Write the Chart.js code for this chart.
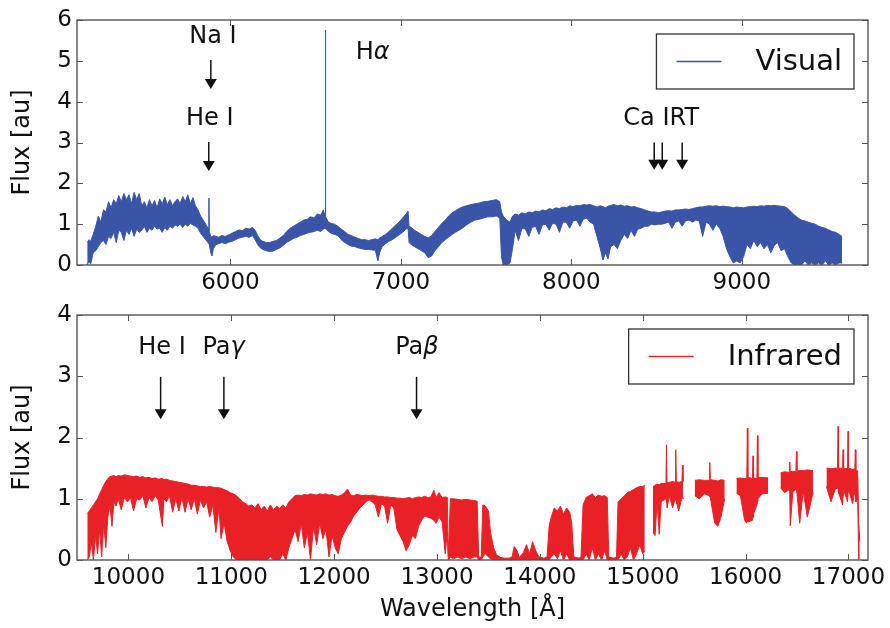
<!DOCTYPE html>
<html lang="en">
<head>
<meta charset="UTF-8">
<title>Visual and infrared spectra</title>
<script src="https://cdn.jsdelivr.net/npm/chart.js"></script>
<style>
  body { margin: 0; background: #fff; }
  .panel { position: absolute; left: 0; width: 890px; }
  #visPanel { top: 0; height: 290px; }
  #irPanel { top: 290px; height: 338px; }
</style>
</head>
<body>
<div class="panel" id="visPanel"><canvas id="visChart" width="890" height="290"></canvas></div>
<div class="panel" id="irPanel"><canvas id="irChart" width="890" height="338"></canvas></div>
<script>
const FONT = "'DejaVu Sans', sans-serif";
const visColor = 'rgb(58, 84, 168)';
const irColor = 'rgb(233, 32, 38)';

// axis ticks
const visTicks = [6000, 7000, 8000, 9000];
const visFluxTicks = [0, 1, 2, 3, 4, 5, 6];
const irTicks = [10000, 11000, 12000, 13000, 14000, 15000, 16000, 17000];
const irFluxTicks = [0, 1, 2, 3, 4];

// visual spectrum: wavelength [A], upper and lower envelope of the flux
const visWave = [
  5160, 5170, 5180, 5195, 5210, 5225, 5240, 5255, 5270, 5285,
  5300, 5315, 5330, 5345, 5360, 5375, 5390, 5405, 5420, 5435,
  5450, 5465, 5480, 5495, 5510, 5525, 5540, 5555, 5570, 5585,
  5600, 5615, 5630, 5645, 5660, 5675, 5690, 5705, 5720, 5735,
  5750, 5765, 5780, 5795, 5810, 5825, 5840, 5855, 5868, 5872,
  5874, 5876, 5885, 5892, 5900, 5915, 5930, 5950, 5970, 5990,
  6010, 6030, 6050, 6070, 6090, 6110, 6130, 6145, 6160, 6175,
  6190, 6210, 6230, 6250, 6270, 6290, 6310, 6330, 6350, 6370,
  6390, 6410, 6430, 6450, 6470, 6490, 6510, 6530, 6545, 6555,
  6557, 6559, 6575, 6590, 6610, 6630, 6650, 6670, 6690, 6710,
  6730, 6750, 6770, 6790, 6810, 6830, 6850, 6865, 6875, 6890,
  6910, 6930, 6950, 6970, 6990, 7010, 7030, 7042, 7048, 7060,
  7080, 7100, 7120, 7140, 7160, 7180, 7200, 7220, 7240, 7260,
  7280, 7300, 7320, 7340, 7360, 7385, 7410, 7435, 7460, 7485,
  7510, 7535, 7560, 7580, 7590, 7600, 7620, 7640, 7655, 7670,
  7690, 7710, 7730, 7750, 7770, 7790, 7810, 7830, 7850, 7870,
  7890, 7910, 7930, 7950, 7970, 7990, 8010, 8030, 8050, 8070,
  8090, 8110, 8130, 8150, 8170, 8185, 8200, 8215, 8230, 8250,
  8270, 8290, 8310, 8330, 8350, 8370, 8390, 8410, 8430, 8450,
  8470, 8490, 8510, 8530, 8550, 8570, 8590, 8610, 8630, 8650,
  8670, 8690, 8710, 8730, 8750, 8770, 8790, 8810, 8830, 8850,
  8870, 8890, 8910, 8930, 8950, 8970, 8990, 9010, 9030, 9050,
  9070, 9090, 9110, 9130, 9150, 9170, 9190, 9210, 9230, 9250,
  9270, 9290, 9310, 9330, 9350, 9370, 9390, 9410, 9430, 9450,
  9470, 9490, 9510, 9530, 9550, 9570, 9588
];
const visHigh = [
  0.55, 0.62, 0.58, 0.75, 0.95, 1.20, 1.05, 1.35, 1.30, 1.55,
  1.40, 1.60, 1.50, 1.70, 1.55, 1.75, 1.60, 1.72, 1.50, 1.78,
  1.60, 1.75, 1.45, 1.55, 1.40, 1.60, 1.45, 1.58, 1.40, 1.62,
  1.50, 1.66, 1.48, 1.60, 1.45, 1.55, 1.62, 1.50, 1.68, 1.55,
  1.72, 1.50, 1.65, 1.45, 1.35, 1.20, 1.10, 1.00, 0.90, 0.86,
  1.64, 0.82, 0.70, 0.68, 0.72, 0.70, 0.68, 0.72, 0.70, 0.74,
  0.78, 0.82, 0.86, 0.84, 0.90, 0.88, 0.92, 0.85, 0.72, 0.62,
  0.58, 0.55, 0.55, 0.58, 0.60, 0.66, 0.72, 0.82, 0.90, 0.95,
  1.00, 1.05, 1.10, 1.12, 1.18, 1.15, 1.25, 1.22, 1.35, 1.20,
  5.75, 1.18, 1.05, 1.02, 1.00, 0.95, 0.88, 0.82, 0.75, 0.72,
  0.68, 0.65, 0.62, 0.62, 0.60, 0.62, 0.64, 0.62, 0.66, 0.70,
  0.75, 0.82, 0.90, 0.98, 1.05, 1.15, 1.25, 1.32, 0.95, 0.92,
  0.85, 0.80, 0.75, 0.70, 0.66, 0.72, 0.82, 0.92, 1.02, 1.10,
  1.20, 1.28, 1.33, 1.38, 1.42, 1.45, 1.48, 1.50, 1.52, 1.55,
  1.56, 1.58, 1.60, 1.55, 1.30, 1.20, 1.10, 1.05, 1.20, 1.25,
  1.22, 1.28, 1.25, 1.30, 1.28, 1.32, 1.30, 1.35, 1.33, 1.38,
  1.36, 1.40, 1.38, 1.42, 1.40, 1.45, 1.43, 1.46, 1.45, 1.48,
  1.47, 1.48, 1.45, 1.42, 1.45, 1.43, 1.40, 1.44, 1.46, 1.48,
  1.45, 1.47, 1.44, 1.45, 1.42, 1.43, 1.40, 1.38, 1.35, 1.32,
  1.30, 1.30, 1.28, 1.30, 1.32, 1.33, 1.32, 1.35, 1.35, 1.36,
  1.37, 1.36, 1.38, 1.40, 1.42, 1.42, 1.44, 1.45, 1.44, 1.45,
  1.43, 1.44, 1.43, 1.42, 1.40, 1.42, 1.41, 1.40, 1.42, 1.43,
  1.44, 1.43, 1.45, 1.44, 1.46, 1.45, 1.46, 1.45, 1.44, 1.43,
  1.38, 1.30, 1.22, 1.15, 1.10, 1.08, 1.05, 1.02, 1.00, 0.95,
  0.92, 0.90, 0.86, 0.82, 0.80, 0.75, 0.70
];
const visLow = [
  0.00, 0.10, 0.02, 0.30, 0.35, 0.45, 0.55, 0.60, 0.50, 0.70,
  0.65, 0.80, 0.55, 0.85, 0.80, 0.60, 0.85, 0.75, 0.90, 0.70,
  0.88, 0.80, 0.85, 0.95, 0.80, 0.90, 0.85, 0.95, 0.88, 0.90,
  0.80, 0.92, 0.85, 0.95, 0.90, 0.98, 0.95, 1.00, 0.92, 1.00,
  0.95, 1.02, 0.98, 0.95, 0.90, 0.78, 0.70, 0.62, 0.55, 0.52,
  0.52, 0.50, 0.30, 0.22, 0.40, 0.50, 0.52, 0.55, 0.52, 0.56,
  0.58, 0.62, 0.66, 0.68, 0.70, 0.68, 0.72, 0.62, 0.50, 0.42,
  0.38, 0.35, 0.33, 0.34, 0.38, 0.42, 0.48, 0.55, 0.60, 0.65,
  0.68, 0.72, 0.75, 0.78, 0.80, 0.82, 0.85, 0.82, 0.88, 0.90,
  0.90, 0.90, 0.82, 0.78, 0.75, 0.72, 0.62, 0.55, 0.50, 0.46,
  0.45, 0.42, 0.40, 0.38, 0.38, 0.37, 0.36, 0.10, 0.30, 0.45,
  0.52, 0.58, 0.62, 0.68, 0.74, 0.80, 0.88, 0.90, 0.55, 0.50,
  0.45, 0.40, 0.35, 0.30, 0.18, 0.22, 0.35, 0.45, 0.55, 0.62,
  0.68, 0.75, 0.80, 0.85, 0.90, 0.98, 1.05, 1.10, 1.12, 1.15,
  1.18, 1.18, 1.20, 1.15, 0.20, 0.00, 0.00, 0.05, 0.40, 0.85,
  0.60, 0.90, 0.88, 0.70, 0.92, 0.95, 0.75, 0.98, 1.00, 0.85,
  1.02, 1.00, 0.80, 1.05, 1.05, 0.90, 1.08, 1.10, 0.95, 1.12,
  1.15, 1.05, 1.00, 0.70, 0.40, 0.12, 0.30, 0.15, 0.45, 0.50,
  0.40, 0.60, 0.75, 0.65, 0.85, 0.70, 0.88, 0.90, 0.95, 0.95,
  1.00, 0.98, 1.00, 1.00, 1.02, 1.05, 0.90, 1.05, 1.08, 0.95,
  1.08, 1.10, 1.05, 1.10, 1.08, 0.70, 1.05, 1.00, 0.85, 1.00,
  0.90, 0.70, 0.40, 0.20, 0.05, 0.10, 0.05, 0.20, 0.50, 0.40,
  0.60, 0.45, 0.55, 0.40, 0.50, 0.30, 0.48, 0.55, 0.35, 0.40,
  0.20, 0.05, 0.00, 0.02, 0.00, 0.10, 0.00, 0.05, 0.00, 0.05,
  0.00, 0.10, 0.00, 0.05, 0.00, 0.05, 0.05
];

// infrared spectrum (null = masked telluric band)
const irWave = [
  9600, 9620, 9640, 9660, 9680, 9700, 9720, 9740, 9760, 9780,
  9800, 9820, 9840, 9860, 9880, 9900, 9930, 9960, 9990, 10020,
  10050, 10080, 10110, 10140, 10170, 10200, 10230, 10260, 10290, 10330,
  10345, 10370, 10400, 10430, 10460, 10490, 10520, 10550, 10580, 10610,
  10640, 10670, 10700, 10730, 10760, 10790, 10820, 10850, 10880, 10900,
  10930, 10960, 10990, 11020, 11050, 11080, 11110, 11140, 11170, 11200,
  11230, 11260, 11290, 11320, 11350, 11380, 11410, 11440, 11470, 11500,
  11530, 11560, 11590, 11620, 11650, 11680, 11710, 11740, 11770, 11800,
  11830, 11860, 11890, 11920, 11950, 11980, 12010, 12040, 12070, 12100,
  12130, 12160, 12190, 12220, 12250, 12280, 12310, 12340, 12370, 12400,
  12430, 12460, 12490, 12520, 12550, 12580, 12610, 12640, 12670, 12700,
  12730, 12760, 12790, 12820, 12850, 12880, 12910, 12940, 12970, 12990,
  13020, 13050, 13080, 13100, 13110, 13130, 13160, 13200, 13240, 13280,
  13320, 13360, 13390, 13405, 13430, 13445, 13470, 13500, 13520, 13550,
  13580, 13620, 13660, 13700, 13730, 13750, 13780, 13800, 13840, 13870,
  13900, 13930, 13960, 13990, 14040, 14070, 14090, 14110, 14140, 14170,
  14200, 14230, 14260, 14290, 14310, 14330, 14380, 14400, 14420, 14450,
  14480, 14510, 14540, 14570, 14600, 14630, 14655, 14670, 14720, 14745,
  14760, 14790, 14820, 14850, 14880, 14910, 14940, 14970, 15000, 15020,
  15060, 15100, 15120, 15140, 15160, 15180, 15226, 15231, 15236, 15260,
  15290, 15316, 15321, 15326, 15350, 15381, 15386, 15391, 15450, 15506,
  15550, 15600, 15647, 15652, 15657, 15700, 15730, 15760, 15797, 15850,
  15911, 15950, 15990, 16012, 16017, 16022, 16067, 16072, 16077, 16110,
  16115, 16120, 16160, 16218, 16280, 16339, 16380, 16424, 16429, 16434,
  16460, 16489, 16494, 16499, 16526, 16560, 16600, 16656, 16720, 16786,
  16830, 16870, 16894, 16899, 16904, 16943, 16948, 16953, 16991, 16996,
  17001, 17040, 17062, 17067, 17072, 17090, 17100, 17110
];
const irHigh = [
  0.76, 0.80, 0.85, 0.90, 0.95, 1.00, 1.08, 1.15, 1.22, 1.28,
  1.33, 1.36, 1.37, 1.38, 1.36, 1.38, 1.37, 1.39, 1.38, 1.37,
  1.36, 1.37, 1.35, 1.36, 1.34, 1.35, 1.33, 1.34, 1.32, 1.33,
  1.31, 1.32, 1.30, 1.29, 1.28, 1.27, 1.26, 1.25, 1.24, 1.22,
  1.22, 1.21, 1.20, 1.20, 1.19, 1.20, 1.19, 1.18, 1.18, 1.17,
  1.15, 1.13, 1.10, 1.08, 1.05, 1.00, 0.95, 0.92, 0.88, 0.90,
  0.85, 0.92, 0.82, 0.88, 0.80, 0.90, 0.82, 0.88, 0.84, 0.90,
  0.85, 0.95, 1.00, 1.05, 1.06, 1.05, 1.07, 1.06, 1.08, 1.07,
  1.06, 1.08, 1.07, 1.08, 1.06, 1.07, 1.05, 1.04, 1.06, 1.10,
  1.16, 1.06, 1.05, 1.07, 1.06, 1.05, 1.06, 1.05, 1.06, 1.05,
  1.04, 1.04, 1.03, 1.03, 1.02, 1.02, 1.01, 1.01, 1.00, 1.01,
  1.02, 1.00, 1.02, 1.03, 1.02, 1.04, 1.02, 1.03, 1.14, 1.02,
  1.10, 1.02, 1.03, 1.02, 0.05, 1.00, 1.00, 0.99, 0.98, 0.99,
  0.98, 0.97, 0.96, 0.05, 0.05, 0.90, 0.88, 0.80, 0.45, 0.20,
  0.08, 0.04, 0.03, 0.03, 0.05, 0.22, 0.15, 0.04, 0.12, 0.25,
  0.10, 0.30, 0.15, 0.05, 0.03, 0.05, 0.55, 0.70, 0.85, 0.80,
  0.88, 0.75, 0.85, 0.78, 0.60, 0.05, 0.03, 0.05, 0.90, 1.02,
  1.05, 1.08, 1.02, 1.06, 1.04, 1.05, 1.02, 0.05, 0.03, 0.05,
  0.95, 1.00, 1.05, 1.10, 1.12, 1.15, 1.18, 1.20, 1.20, 1.22,
  null, 1.20, 1.22, 1.24, 1.23, 1.25, 1.25, 1.88, 1.26, 1.27,
  1.28, 1.27, 1.80, 1.28, 1.27, 1.28, 1.55, 1.28, null, 1.30,
  1.31, 1.30, 1.30, 1.59, 1.31, 1.30, 1.29, 1.31, 1.30, null,
  1.33, 1.34, 1.33, 1.34, 2.15, 1.35, 1.33, 1.70, 1.34, 1.33,
  2.03, 1.34, 1.35, 1.34, null, 1.42, 1.44, 1.43, 1.60, 1.44,
  1.45, 1.44, 1.77, 1.45, 1.46, 1.46, 1.47, 1.46, null, 1.50,
  1.49, 1.50, 1.50, 2.18, 1.50, 1.50, 1.80, 1.50, 1.49, 2.10,
  1.50, 1.48, 1.49, 1.80, 1.48, 1.45, 0.60, 0.30
];
const irLow = [
  0.00, 0.05, 0.30, 0.00, 0.40, 0.10, 0.50, 0.05, 0.60, 0.20,
  0.70, 0.90, 0.55, 0.95, 0.88, 1.00, 0.82, 1.02, 0.95, 1.02,
  0.80, 1.00, 0.98, 1.05, 0.85, 1.02, 0.95, 1.05, 0.98, 0.55,
  1.00, 0.95, 1.05, 0.78, 1.00, 0.80, 1.02, 0.78, 1.00, 0.82,
  1.00, 0.75, 0.98, 0.85, 0.95, 0.70, 0.90, 0.45, 0.85, 0.35,
  0.60, 0.30, 0.15, 0.05, 0.00, 0.00, 0.00, 0.00, 0.00, 0.00,
  0.00, 0.00, 0.00, 0.00, 0.00, 0.05, 0.00, 0.00, 0.00, 0.10,
  0.00, 0.20, 0.35, 0.50, 0.30, 0.60, 0.20, 0.45, 0.00, 0.55,
  0.25, 0.60, 0.35, 0.50, 0.05, 0.40, 0.20, 0.10, 0.35, 0.45,
  0.55, 0.62, 0.72, 0.78, 0.85, 0.90, 0.95, 0.98, 0.95, 0.90,
  0.70, 0.92, 0.88, 0.60, 0.90, 0.85, 0.50, 0.40, 0.30, 0.15,
  0.25, 0.40, 0.35, 0.55, 0.65, 0.72, 0.70, 0.68, 0.65, 0.60,
  0.70, 0.62, 0.10, 0.45, 0.00, 0.05, 0.02, 0.05, 0.02, 0.05,
  0.02, 0.05, 0.05, 0.00, 0.00, 0.05, 0.10, 0.05, 0.02, 0.00,
  0.00, 0.00, 0.00, 0.00, 0.00, 0.00, 0.00, 0.00, 0.00, 0.00,
  0.00, 0.00, 0.00, 0.00, 0.00, 0.00, 0.00, 0.05, 0.10, 0.02,
  0.15, 0.00, 0.10, 0.00, 0.00, 0.00, 0.00, 0.00, 0.00, 0.10,
  0.00, 0.20, 0.00, 0.10, 0.00, 0.15, 0.00, 0.00, 0.00, 0.00,
  0.00, 0.10, 0.00, 0.05, 0.20, 0.00, 0.10, 0.25, 0.10, 0.15,
  null, 0.45, 0.40, 0.95, 0.42, 0.95, 1.00, 1.00, 0.85, 1.05,
  0.85, 1.00, 1.00, 0.95, 0.80, 1.02, 1.02, 1.00, null, 1.05,
  1.00, 1.08, 1.05, 1.05, 1.02, 0.60, 0.55, 0.70, 1.00, null,
  1.09, 1.05, 0.65, 0.60, 0.80, 0.62, 0.65, 0.70, 0.75, 0.90,
  0.95, 1.00, 1.08, 1.09, null, 1.18, 1.10, 1.15, 1.12, 0.56,
  1.12, 1.15, 1.15, 1.10, 0.60, 1.12, 0.70, 1.10, null, 1.20,
  0.95, 1.15, 1.18, 1.15, 1.10, 0.90, 1.05, 1.15, 0.95, 1.10,
  1.15, 0.92, 1.12, 1.10, 0.95, 1.00, 0.00, 0.00
];

// line identifications: label centre (A, flux), arrow wavelengths, arrow top and tip (flux)
const visMarks = [
  { label: 'Na I', x: 5897, y: 5.59, arrows: [5885], top: 5.02, tip: 4.31 },
  { label: 'He I', x: 5879, y: 3.58, arrows: [5873], top: 3.01, tip: 2.30 },
  { label: 'Hα', x: 6834, y: 5.20, arrows: [] },
  { label: 'Ca IRT', x: 8527, y: 3.58, arrows: [8486, 8533, 8650], top: 3.00, tip: 2.33 }
];
const irMarks = [
  { label: 'He I', x: 10326, y: 3.47, arrows: [10313], top: 2.99, tip: 2.30 },
  { label: 'Paγ', x: 10925, y: 3.47, arrows: [10928], top: 2.99, tip: 2.30 },
  { label: 'Paβ', x: 12804, y: 3.47, arrows: [12801], top: 2.99, tip: 2.30 }
];

function toPoints(xs, ys) {
  return xs.map((x, i) => ({ x: x, y: ys[i] }));
}

// draws a label, greek letters in italic like matplotlib mathtext
function drawLabel(ctx, text, cx, cy) {
  const runs = [];
  for (const ch of text) {
    const italic = /[α-ω]/.test(ch);
    const last = runs[runs.length - 1];
    if (last && last.italic === italic) last.text += ch;
    else runs.push({ text: ch, italic: italic });
  }
  let total = 0;
  runs.forEach(r => {
    ctx.font = (r.italic ? 'italic ' : '') + '24px ' + FONT;
    r.w = ctx.measureText(r.text).width;
    total += r.w;
  });
  let x = cx - total / 2;
  ctx.textAlign = 'left';
  ctx.textBaseline = 'middle';
  runs.forEach(r => {
    ctx.font = (r.italic ? 'italic ' : '') + '24px ' + FONT;
    ctx.fillText(r.text, x, cy);
    x += r.w;
  });
}

function drawArrow(ctx, px, yTop, yTip) {
  const headL = 10, headW = 6;
  ctx.beginPath();
  ctx.moveTo(px, yTop);
  ctx.lineTo(px, yTip - headL + 1);
  ctx.stroke();
  ctx.beginPath();
  ctx.moveTo(px - headW, yTip - headL);
  ctx.lineTo(px + headW, yTip - headL);
  ctx.lineTo(px, yTip);
  ctx.closePath();
  ctx.fill();
}

// frame, inward ticks, line markers and legend box
const decorPlugin = {
  id: 'spectrumDecor',
  afterDatasetsDraw(chart, args, opts) {
    const { ctx, chartArea: a } = chart;
    const xs = chart.scales.x, ys = chart.scales.y;
    ctx.save();

    ctx.strokeStyle = '#555';
    ctx.lineWidth = 1;
    xs.ticks.forEach(t => {
      const px = Math.round(xs.getPixelForValue(t.value)) + 0.5;
      ctx.beginPath();
      ctx.moveTo(px, a.bottom); ctx.lineTo(px, a.bottom - 6);
      ctx.moveTo(px, a.top); ctx.lineTo(px, a.top + 6);
      ctx.stroke();
    });
    ys.ticks.forEach(t => {
      const py = Math.round(ys.getPixelForValue(t.value)) + 0.5;
      ctx.beginPath();
      ctx.moveTo(a.left, py); ctx.lineTo(a.left + 6, py);
      ctx.moveTo(a.right, py); ctx.lineTo(a.right - 6, py);
      ctx.stroke();
    });
    ctx.lineWidth = 1.4;
    ctx.strokeRect(a.left, a.top, a.right - a.left, a.bottom - a.top);

    ctx.fillStyle = '#111';
    ctx.strokeStyle = '#111';
    ctx.lineWidth = 1.5;
    opts.marks.forEach(m => {
      drawLabel(ctx, m.label, xs.getPixelForValue(m.x), ys.getPixelForValue(m.y));
      m.arrows.forEach(w => {
        drawArrow(ctx, xs.getPixelForValue(w), ys.getPixelForValue(m.top), ys.getPixelForValue(m.tip));
      });
    });

    ctx.font = '29px ' + FONT;
    const tw = ctx.measureText(opts.legend).width;
    const bw = 20 + 45 + 34 + tw + 12, bh = 55;
    const bx = a.right - 14 - bw, by = a.top + 14;
    ctx.fillStyle = '#fff';
    ctx.fillRect(bx, by, bw, bh);
    ctx.strokeStyle = '#333';
    ctx.lineWidth = 1.3;
    ctx.strokeRect(bx, by, bw, bh);
    ctx.strokeStyle = opts.color;
    ctx.lineWidth = 1.5;
    ctx.beginPath();
    ctx.moveTo(bx + 20, by + bh / 2);
    ctx.lineTo(bx + 65, by + bh / 2);
    ctx.stroke();
    ctx.fillStyle = '#111';
    ctx.textAlign = 'left';
    ctx.textBaseline = 'middle';
    ctx.fillText(opts.legend, bx + 99, by + bh / 2 + 1);

    ctx.restore();
  }
};

function makeSpectrum(id, s) {
  const tickFont = { family: FONT, size: 23 };
  const titleFont = { family: FONT, size: 24 };
  return new Chart(document.getElementById(id), {
    type: 'line',
    data: {
      datasets: [
        { data: toPoints(s.wave, s.high), borderColor: s.color, borderWidth: 1,
          pointRadius: 0, fill: false, spanGaps: false },
        { data: toPoints(s.wave, s.low), borderColor: s.color, borderWidth: 1,
          pointRadius: 0, fill: '-1', backgroundColor: s.color, spanGaps: false }
      ]
    },
    options: {
      responsive: false,
      animation: false,
      devicePixelRatio: 1,
      layout: { padding: { left: 0, right: 22, top: s.padTop, bottom: 0 } },
      plugins: {
        legend: { display: false },
        tooltip: { enabled: false },
        spectrumDecor: { marks: s.marks, legend: s.legend, color: s.color }
      },
      scales: {
        x: {
          type: 'linear',
          min: s.xMin,
          max: s.xMax,
          afterBuildTicks: sc => { sc.ticks = s.xTicks.map(v => ({ value: v })); },
          afterFit: sc => { sc.height = s.xHeight; },
          grid: { display: false, drawTicks: false },
          border: { display: false },
          ticks: { font: tickFont, color: '#111', padding: 4, maxRotation: 0, autoSkip: false,
                   callback: v => String(v) },
          title: { display: s.xTitle, text: 'Wavelength [Å]', font: titleFont, color: '#111',
                   padding: { top: 0, bottom: 4 } }
        },
        y: {
          min: 0,
          max: s.yMax,
          afterBuildTicks: sc => { sc.ticks = s.yTicks.map(v => ({ value: v })); },
          afterFit: sc => { sc.width = 77; },
          grid: { display: false, drawTicks: false },
          border: { display: false },
          ticks: { font: tickFont, color: '#111', padding: 5, callback: v => String(v) },
          title: { display: true, text: 'Flux [au]', font: titleFont, color: '#111',
                   padding: { top: 8, bottom: 0 } }
        }
      }
    },
    plugins: [decorPlugin]
  });
}

makeSpectrum('visChart', {
  wave: visWave, high: visHigh, low: visLow, color: visColor,
  xMin: 5100, xMax: 9740, yMax: 6, xTicks: visTicks, yTicks: visFluxTicks,
  padTop: 20, xHeight: 25, xTitle: false, marks: visMarks, legend: 'Visual'
});

makeSpectrum('irChart', {
  wave: irWave, high: irHigh, low: irLow, color: irColor,
  xMin: 9500, xMax: 17190, yMax: 4, xTicks: irTicks, yTicks: irFluxTicks,
  padTop: 25, xHeight: 68, xTitle: true, marks: irMarks, legend: 'Infrared'
});
</script>
</body>
</html>
